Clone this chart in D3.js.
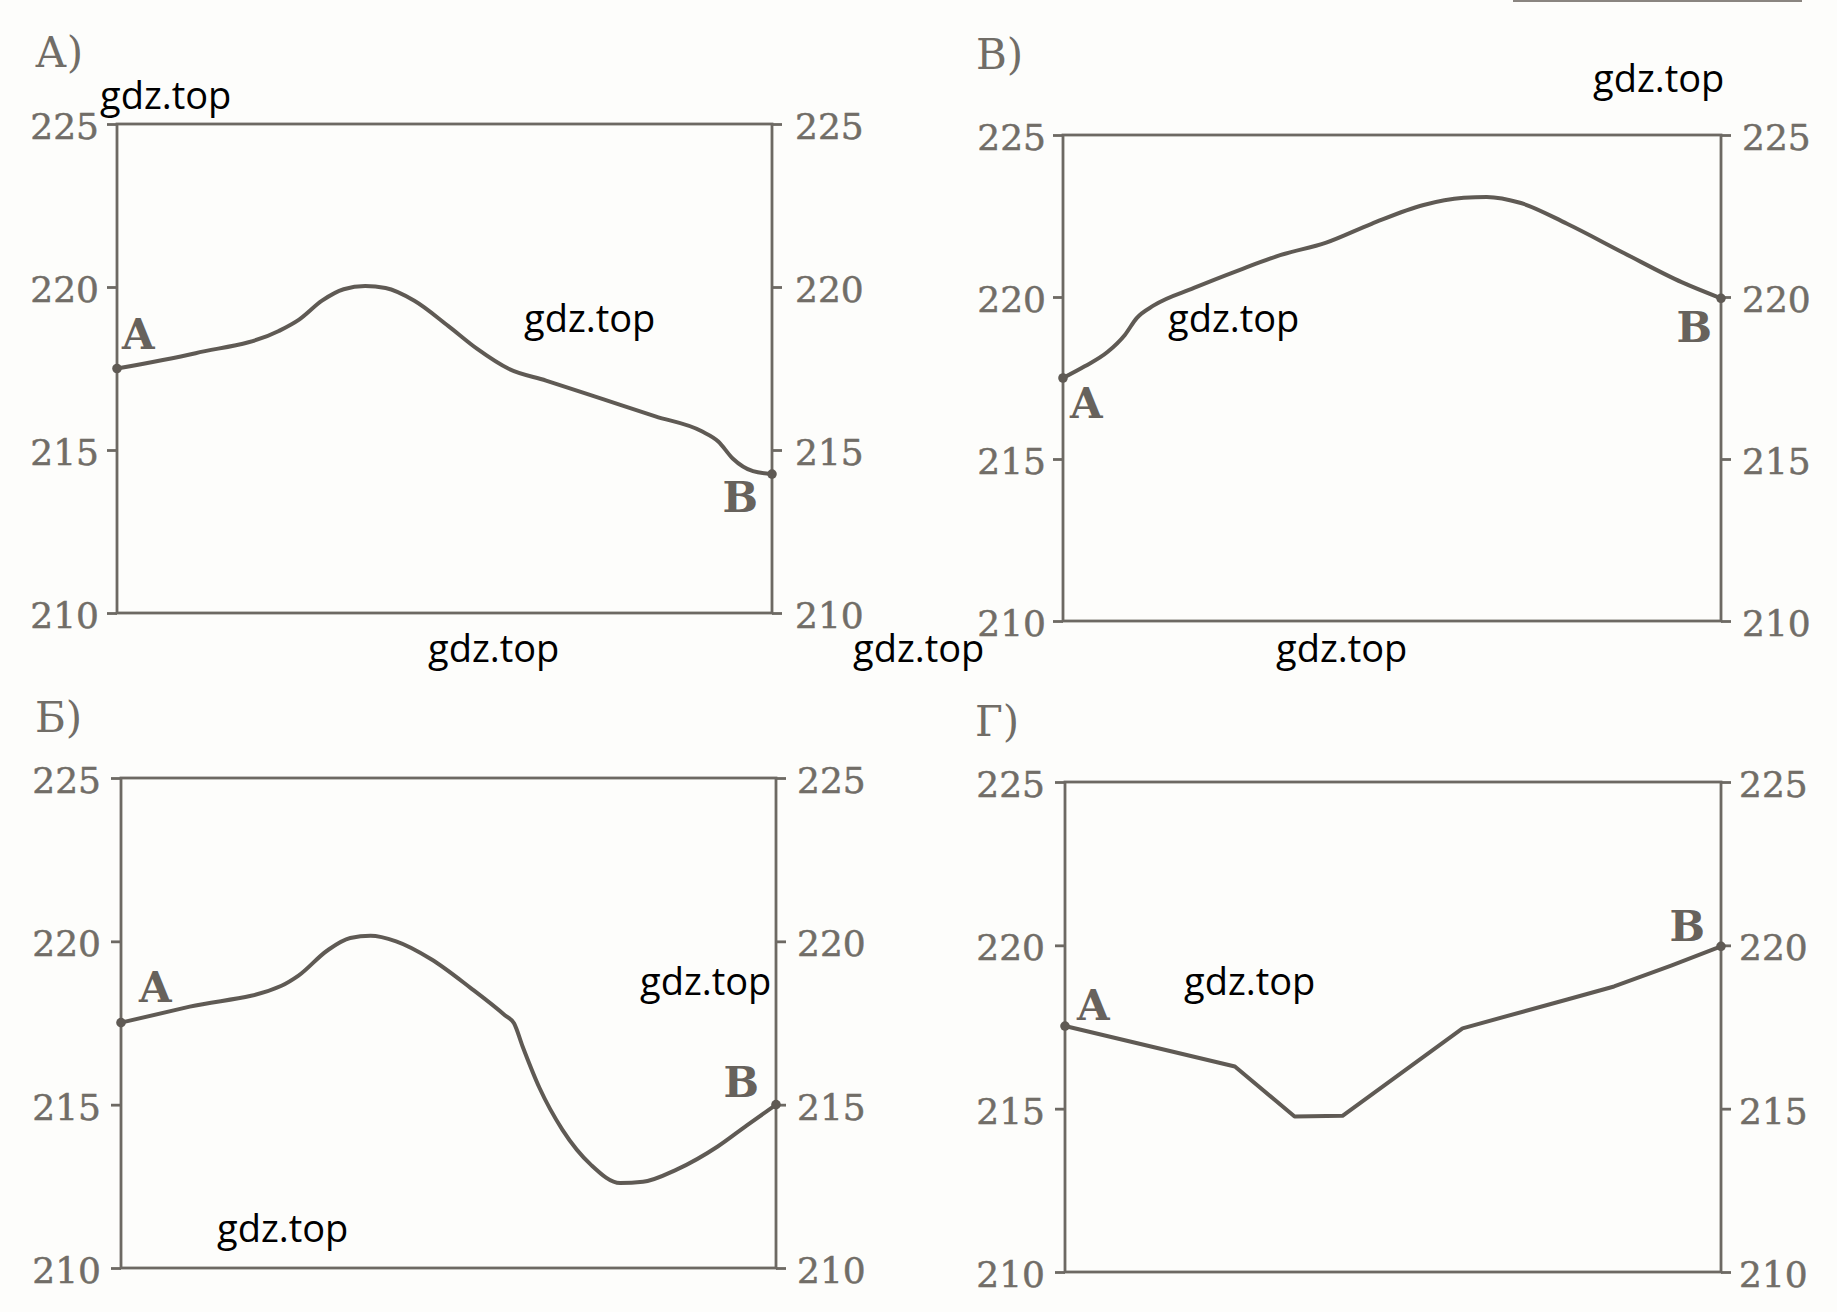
<!DOCTYPE html>
<html><head><meta charset="utf-8">
<script src="https://cdn.jsdelivr.net/npm/d3@7"></script>
<style>html,body{margin:0;padding:0;background:#fdfdfb;} svg{display:block}</style>
</head><body><svg id="chart" width="1837" height="1312"></svg>
<script>
// ---------- data ----------
const yTicks = [210, 215, 220, 225];
const panelNames = ["А)", "В)", "Б)", "Г)"];
const startLabel = "A";
const endLabel = "B";
const watermark = "gdz.top";

// Panel А) (top-left): distance along route (%) and height
const distA = [0, 12.0, 24.7, 27.8, 31.3, 34.6, 37.9, 41.0, 45.4, 50.6, 55.0, 59.8, 65.5, 74.3, 82.2, 89.2, 91.8, 94.0, 97.1, 100];
const heightA = [217.5, 217.97, 218.65, 219.0, 219.58, 219.93, 220.03, 219.97, 219.58, 218.8, 218.1, 217.49, 217.13, 216.55, 216.03, 215.58, 215.26, 214.74, 214.35, 214.26];

// Panel В) (top-right)
const distV = [0, 3.3, 6.8, 9.4, 11.2, 13.8, 19.9, 26.9, 33.0, 40.0, 46.9, 54.8, 60.9, 64.4, 69.6, 76.6, 85.3, 94.1, 100];
const heightV = [217.5, 217.86, 218.31, 218.83, 219.35, 219.74, 220.28, 220.84, 221.29, 221.68, 222.26, 222.84, 223.06, 223.09, 222.9, 222.26, 221.35, 220.45, 219.96];

// Panel Б) (bottom-left)
const distB = [0, 10.5, 24.5, 27.1, 31.5, 35.0, 38.1, 42.0, 47.3, 53.4, 58.6, 60.0, 61.3, 63.9, 67.4, 71.8, 76.2, 79.7, 84.9, 91.1, 95.5, 100];
const heightB = [217.51, 218.0, 218.64, 218.95, 219.72, 220.1, 220.17, 220.0, 219.46, 218.57, 217.74, 217.49, 216.79, 215.51, 214.23, 213.15, 212.6, 212.64, 213.02, 213.72, 214.36, 215.0];

// Panel Г) (bottom-right)
const distG = [0, 25.9, 35.0, 42.3, 60.6, 76.7, 83.7, 92.4, 100];
const heightG = [217.53, 216.29, 214.76, 214.78, 217.46, 218.35, 218.74, 219.38, 219.97];

// ---------- layout ----------
const svg = d3.select("#chart");
const frameColor = "#6d6963";
const lineColor = "#5f5a54";
const textColor = "#716d67";
const labelColor = "#67625c";
const serif = "'DejaVu Serif', 'Liberation Serif', serif";

// top-right decorative rule
svg.append("line").attr("x1", 1513).attr("x2", 1802).attr("y1", 1).attr("y2", 1)
  .attr("stroke", "#8a8580").attr("stroke-width", 2);

const layouts = [
  {left: 117, right: 772, top: 124, bottom: 613, nameX: 35, nameY: 67,
   dist: distA, h: heightA, curve: d3.curveMonotoneX,
   s: {dx: 5, dy: -20, anchor: "start"}, e: {dx: -14, dy: 38, anchor: "end"}, padL: 8, padR: 13},
  {left: 1063, right: 1721, top: 135, bottom: 621, nameX: 976, nameY: 69,
   dist: distV, h: heightV, curve: d3.curveMonotoneX,
   s: {dx: 7, dy: 40, anchor: "start"}, e: {dx: -9, dy: 44, anchor: "end"}, padL: 7, padR: 11},
  {left: 121, right: 776, top: 778, bottom: 1268, nameX: 35, nameY: 732,
   dist: distB, h: heightB, curve: d3.curveMonotoneX,
   s: {dx: 18, dy: -21, anchor: "start"}, e: {dx: -17, dy: -8, anchor: "end"}, padL: 10, padR: 11},
  {left: 1065, right: 1721, top: 782, bottom: 1272, nameX: 975, nameY: 736,
   dist: distG, h: heightG, curve: d3.curveLinear,
   s: {dx: 12, dy: -6, anchor: "start"}, e: {dx: -16, dy: -5, anchor: "end"}, padL: 10, padR: 8}
];

layouts.forEach((L, i) => {
  const g = svg.append("g");
  const x = d3.scaleLinear().domain([0, 100]).range([L.left, L.right]);
  const y = d3.scaleLinear().domain([210, 225]).range([L.bottom, L.top]);

  // panel name
  g.append("text").attr("x", L.nameX).attr("y", L.nameY)
    .attr("font-family", serif).attr("font-size", 42).attr("fill", textColor)
    .text(panelNames[i]);

  // axes
  const styleAxis = sel => {
    sel.select(".domain").remove();
    sel.selectAll(".tick line").attr("stroke", frameColor).attr("stroke-width", 2.8);
    sel.selectAll(".tick text").attr("font-family", serif).attr("font-size", 36)
      .attr("fill", textColor).attr("dy", "0.4em")
      .attr("stroke", textColor).attr("stroke-width", 0.5);
  };
  g.append("g").attr("transform", `translate(${L.left},0)`)
    .call(d3.axisLeft(y).tickValues(yTicks).tickSize(10).tickPadding(L.padL).tickFormat(d3.format("d")))
    .call(styleAxis);
  g.append("g").attr("transform", `translate(${L.right},0)`)
    .call(d3.axisRight(y).tickValues(yTicks).tickSize(10).tickPadding(L.padR).tickFormat(d3.format("d")))
    .call(styleAxis);

  // frame
  g.append("rect").attr("x", L.left).attr("y", L.top)
    .attr("width", L.right - L.left).attr("height", L.bottom - L.top)
    .attr("fill", "none").attr("stroke", frameColor).attr("stroke-width", 2.8);

  // profile line
  const pts = L.dist.map((d, k) => [d, L.h[k]]);
  const line = d3.line().x(d => x(d[0])).y(d => y(d[1])).curve(L.curve);
  g.append("path").datum(pts).attr("d", line)
    .attr("fill", "none").attr("stroke", lineColor).attr("stroke-width", 4)
    .attr("stroke-linejoin", "round").attr("stroke-linecap", "round");

  // endpoints
  const first = pts[0], last = pts[pts.length - 1];
  [first, last].forEach(p => {
    g.append("circle").attr("cx", x(p[0])).attr("cy", y(p[1])).attr("r", 4.8).attr("fill", lineColor);
  });
  g.append("text").attr("x", x(first[0]) + L.s.dx).attr("y", y(first[1]) + L.s.dy)
    .attr("text-anchor", L.s.anchor).attr("font-family", serif).attr("font-weight", "bold")
    .attr("font-size", 42).attr("fill", labelColor).text(startLabel);
  g.append("text").attr("x", x(last[0]) + L.e.dx).attr("y", y(last[1]) + L.e.dy)
    .attr("text-anchor", L.e.anchor).attr("font-family", serif).attr("font-weight", "bold")
    .attr("font-size", 42).attr("fill", labelColor).text(endLabel);
});

// watermarks
const wmPos = [[100, 109], [524, 332], [1593, 92], [1168, 332], [428, 662], [853, 662], [1276, 662], [640, 995], [1184, 995], [217, 1242]];
svg.append("g").selectAll("text").data(wmPos).join("text")
  .attr("x", d => d[0]).attr("y", d => d[1])
  .attr("font-family", "'Open Sans', 'Liberation Sans', sans-serif")
  .attr("font-size", 38).attr("fill", "#000").text(watermark);
</script></body></html>
